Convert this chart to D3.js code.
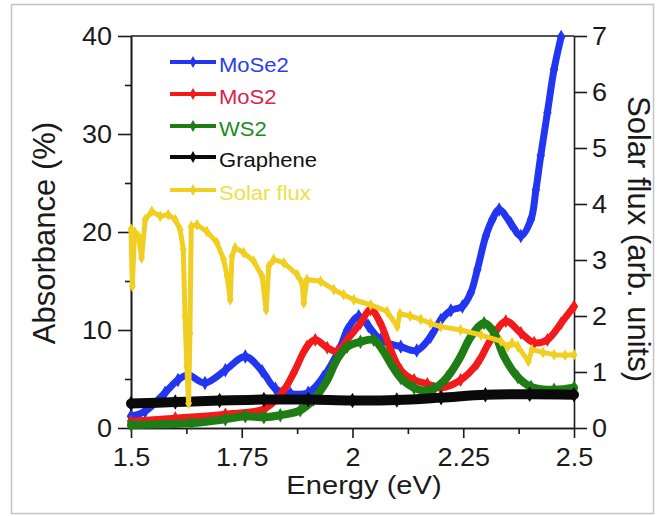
<!DOCTYPE html>
<html>
<head>
<meta charset="utf-8">
<script src="https://cdn.jsdelivr.net/npm/d3@7"></script>
<style>
    body { margin: 0; background: #fff; }
    svg text { font-family: "Liberation Sans", Arial, sans-serif; fill: #1a1a1a; }
</style>
</head>
<body>
<svg id="chart" width="659" height="516"></svg>
<script>
// values
let mose2E = [1.50, 1.532, 1.577, 1.606, 1.629, 1.667, 1.713, 1.758, 1.796, 1.826, 1.86, 1.90, 1.934, 1.973, 1.988,
    2.014, 2.036, 2.063, 2.109, 2.145, 2.176, 2.199, 2.222, 2.248, 2.267, 2.282, 2.301, 2.316, 2.331, 2.357, 2.380,
    2.403, 2.414, 2.425, 2.440, 2.455, 2.471];
let mose2A = [1.2, 1.7, 3.6, 4.9, 5.4, 4.6, 5.9, 7.3, 5.8, 4.0, 3.5, 3.6, 5.2, 8.3, 10.0,
    11.4, 10.4, 9.0, 8.3, 7.9, 9.3, 11.0, 12.0, 12.4, 13.8, 16.2, 19.6, 21.3, 22.3, 20.9, 19.6,
    21.3, 24.3, 27.8, 32.2, 36.6, 39.9];

let mos2E = [1.50, 1.60, 1.713, 1.803, 1.841, 1.867, 1.897, 1.916, 1.943, 1.965, 1.988, 2.018, 2.041, 2.063,
    2.086, 2.109, 2.139, 2.169, 2.199, 2.244, 2.282, 2.312, 2.346, 2.380, 2.410, 2.440, 2.471, 2.50];
let mos2A = [0.7, 1.0, 1.4, 2.0, 3.6, 5.6, 8.3, 9.0, 8.2, 7.8, 9.0, 10.7, 12.1, 10.7,
    8.0, 5.9, 4.9, 4.5, 4.1, 4.9, 6.6, 9.0, 10.9, 9.7, 8.7, 9.0, 10.7, 12.4];

let ws2E = [1.50, 1.637, 1.713, 1.758, 1.80, 1.837, 1.882, 1.912, 1.943, 1.965, 1.988, 2.018, 2.048, 2.063,
    2.086, 2.109, 2.139, 2.169, 2.184, 2.214, 2.244, 2.267, 2.297, 2.320, 2.342, 2.373, 2.403, 2.455, 2.50];
let ws2A = [0.3, 0.5, 0.9, 1.2, 1.1, 1.3, 1.8, 2.9, 4.9, 7.0, 8.3, 8.8, 9.0, 8.3,
    6.6, 5.1, 4.1, 3.8, 4.0, 5.2, 7.3, 9.3, 10.7, 9.7, 7.3, 5.2, 4.2, 3.9, 4.1];

let grapheneE = [1.50, 1.60, 1.70, 1.80, 1.90, 2.00, 2.10, 2.20, 2.30, 2.40, 2.50];
let grapheneA = [2.5, 2.65, 2.8, 2.9, 2.9, 2.8, 2.85, 3.1, 3.4, 3.45, 3.4];

let solarE = [1.500, 1.503, 1.508, 1.517, 1.524, 1.532, 1.547, 1.566, 1.584, 1.600, 1.611, 1.618, 1.622, 1.626,
    1.630, 1.633, 1.636, 1.649, 1.671, 1.694, 1.709, 1.717, 1.724, 1.728, 1.735, 1.754, 1.777, 1.796, 1.805,
    1.811, 1.822, 1.845, 1.875, 1.886, 1.890, 1.897, 1.928, 1.958, 1.980, 2.003, 2.041, 2.078, 2.101, 2.107,
    2.130, 2.154, 2.176, 2.199, 2.244, 2.290, 2.335, 2.350, 2.360, 2.373, 2.397, 2.405, 2.430, 2.455, 2.480, 2.500];
let solarS = [3.55, 2.53, 3.50, 3.42, 3.04, 3.72, 3.87, 3.78, 3.81, 3.72, 3.54, 3.19, 1.99, 1.10,
    0.44, 1.69, 3.60, 3.63, 3.51, 3.31, 3.01, 2.71, 2.29, 3.07, 3.22, 3.13, 2.98, 2.71, 2.11,
    2.89, 3.01, 2.95, 2.74, 2.59, 2.23, 2.65, 2.62, 2.47, 2.38, 2.29, 2.20, 2.08, 1.81, 2.04,
    2.00, 1.94, 1.87, 1.81, 1.75, 1.66, 1.55, 1.45, 1.52, 1.46, 1.19, 1.40, 1.35, 1.31, 1.30, 1.31];

let xTicks = [1.5, 1.75, 2, 2.25, 2.5];
let xMinor = [1.625, 1.875, 2.125, 2.375];
let yTicks = [0, 10, 20, 30, 40];
let yMinor = [5, 15, 25, 35];
let y2Ticks = [0, 1, 2, 3, 4, 5, 6, 7];

let svg = d3.select("#chart");
let plotLeft = 131, plotRight = 574, plotTop = 36, plotBottom = 428;

// outer grey frame
svg.append("rect")
    .attr("x", 11.5).attr("y", 4.5)
    .attr("width", 642).attr("height", 509)
    .attr("fill", "none").attr("stroke", "#c4c4c4").attr("stroke-width", 1.5);

let x = d3.scaleLinear().domain([1.5, 2.5]).range([plotLeft, plotRight]);
let y = d3.scaleLinear().domain([0, 40]).range([plotBottom, plotTop]);
let y2 = d3.scaleLinear().domain([0, 7]).range([plotBottom, plotTop]);

// labels look a bit wider than Arial, stretch them
function widen(sel, sx) {
    sel.each(function () {
        let t = d3.select(this);
        let tx = +t.attr("x") || 0;
        t.attr("x", tx / sx).attr("transform", "scale(" + sx + ",1)");
    });
}

function styleAxis(g) {
    g.selectAll("path, line").attr("stroke", "#1a1a1a").attr("stroke-width", 1.6);
    g.selectAll("text").attr("font-size", 25).attr("fill", "#1a1a1a")
        .style("font-family", '"Liberation Sans", Arial, sans-serif');
}

// minor ticks first
svg.append("g").attr("transform", "translate(0," + plotBottom + ")")
    .call(d3.axisBottom(x).tickValues(xMinor).tickSize(6).tickFormat("").tickSizeOuter(0))
    .call(styleAxis);
svg.append("g").attr("transform", "translate(" + plotLeft + ",0)")
    .call(d3.axisLeft(y).tickValues(yMinor).tickSize(6).tickFormat("").tickSizeOuter(0))
    .call(styleAxis);

let gx = svg.append("g").attr("transform", "translate(0," + plotBottom + ")")
    .call(d3.axisBottom(x).tickValues(xTicks).tickSize(10).tickPadding(10).tickSizeOuter(0)
        .tickFormat(d => String(d)))
    .call(styleAxis);
widen(gx.selectAll("text"), 1.08);

let gy = svg.append("g").attr("transform", "translate(" + plotLeft + ",0)")
    .call(d3.axisLeft(y).tickValues(yTicks).tickSize(13).tickPadding(6).tickSizeOuter(0))
    .call(styleAxis);
widen(gy.selectAll("text"), 1.08);

let gy2 = svg.append("g").attr("transform", "translate(" + plotRight + ",0)")
    .call(d3.axisRight(y2).tickValues(y2Ticks).tickSize(13).tickPadding(5).tickSizeOuter(0)
        .tickFormat(d3.format("d")))
    .call(styleAxis);
widen(gy2.selectAll("text"), 1.08);

// top border of the box
svg.append("line")
    .attr("x1", plotLeft).attr("x2", plotRight).attr("y1", plotTop).attr("y2", plotTop)
    .attr("stroke", "#1a1a1a").attr("stroke-width", 1.6);

// axis titles
svg.append("text")
    .attr("transform", "translate(364,494) scale(1.12,1)")
    .attr("text-anchor", "middle").attr("font-size", 26)
    .text("Energy (eV)");
svg.append("text")
    .attr("transform", "translate(55,233) rotate(-90)")
    .attr("text-anchor", "middle").attr("font-size", 31)
    .text("Absorbance (%)");
svg.append("text")
    .attr("transform", "translate(628,239) rotate(90)")
    .attr("text-anchor", "middle").attr("font-size", 31)
    .text("Solar flux (arb. units)");

let series = [
    { name: "MoSe2", xs: mose2E, ys: mose2A, scale: y, color: "#2236f2", text: "#2a3cf0", width: 7, marker: 60, curve: d3.curveCatmullRom },
    { name: "MoS2", xs: mos2E, ys: mos2A, scale: y, color: "#f21a1a", text: "#e0204a", width: 7, marker: 55, curve: d3.curveCatmullRom },
    { name: "WS2", xs: ws2E, ys: ws2A, scale: y, color: "#1f7d16", text: "#1f8a1c", width: 8, marker: 60, curve: d3.curveCatmullRom },
    { name: "Graphene", xs: grapheneE, ys: grapheneA, scale: y, color: "#0a0a0a", text: "#111111", width: 10, marker: 70, curve: d3.curveCatmullRom },
    { name: "Solar flux", xs: solarE, ys: solarS, scale: y2, color: "#f0cf22", text: "#ede046", width: 5, marker: 40, curve: d3.curveLinear }
];

let plot = svg.append("g");

series.forEach(function (s) {
    let pts = s.xs.map((e, i) => [e, s.ys[i]]);
    let line = d3.line()
        .x(d => x(d[0]))
        .y(d => s.scale(d[1]))
        .curve(s.curve);

    plot.append("path")
        .datum(pts)
        .attr("d", line)
        .attr("fill", "none")
        .attr("stroke", s.color)
        .attr("stroke-width", s.width)
        .attr("stroke-linejoin", "round")
        .attr("stroke-linecap", "round");

    plot.selectAll(null)
        .data(pts)
        .enter()
        .append("path")
        .attr("d", d3.symbol(d3.symbolDiamond, s.marker))
        .attr("transform", d => "translate(" + x(d[0]) + "," + s.scale(d[1]) + ")")
        .attr("fill", s.color);
});

// legend
let legend = svg.append("g");
let legendY = [62, 94, 126, 157, 190];

series.forEach(function (s, i) {
    let row = legend.append("g").attr("transform", "translate(0," + legendY[i] + ")");
    row.append("line")
        .attr("x1", 170).attr("x2", 216)
        .attr("stroke", s.color).attr("stroke-width", 4);
    row.append("path")
        .attr("d", d3.symbol(d3.symbolDiamond, 40))
        .attr("transform", "translate(193,0)")
        .attr("fill", s.color);
    row.append("text")
        .attr("transform", "translate(219,9.5) scale(1.05,1)")
        .attr("font-size", 21)
        .style("fill", s.text)
        .text(s.name);
});
</script>
</body>
</html>
